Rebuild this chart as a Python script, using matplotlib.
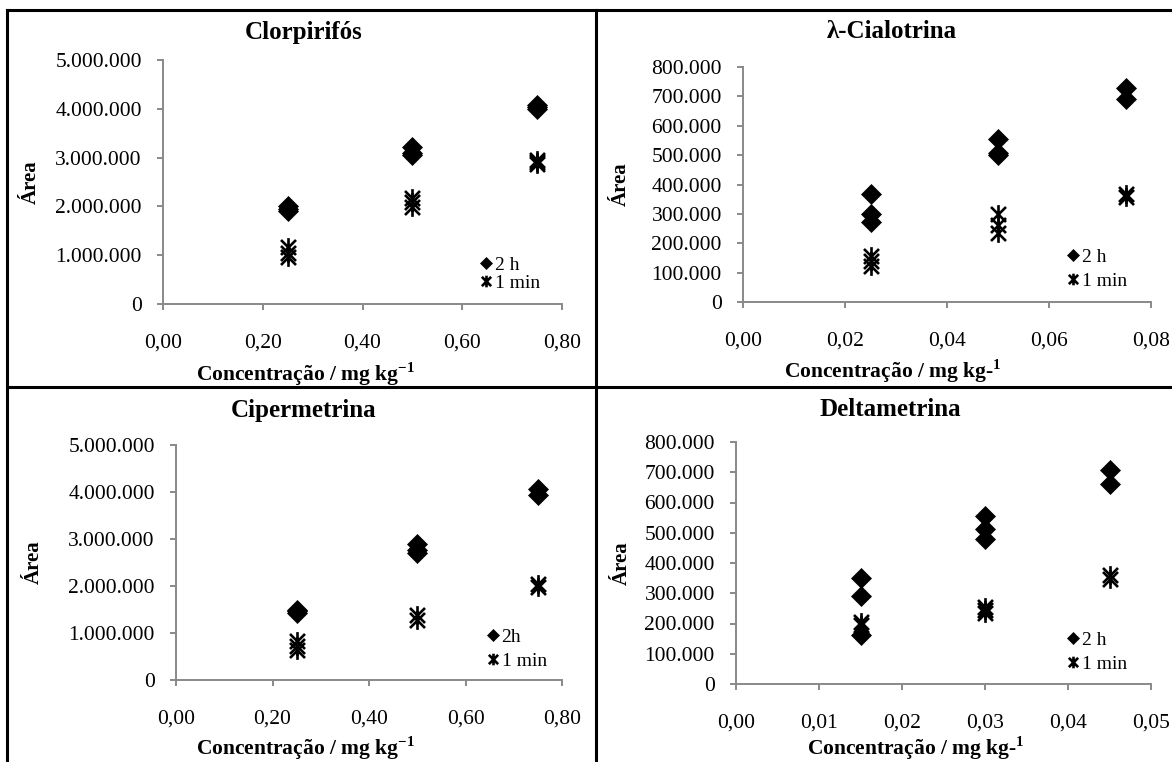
import matplotlib
matplotlib.use("Agg")
import matplotlib.pyplot as plt
from matplotlib.path import Path
from matplotlib.lines import Line2D
from matplotlib.ticker import FuncFormatter, MultipleLocator

plt.rcParams['font.family'] = ['Liberation Serif', 'DejaVu Serif']
plt.rcParams['mathtext.fontset'] = 'custom'
plt.rcParams['mathtext.rm'] = 'Liberation Serif'
plt.rcParams['mathtext.bf'] = 'Liberation Serif:bold'

# --- data ---
clor_x_2h = [0.25, 0.25, 0.25, 0.50, 0.50, 0.50, 0.75, 0.75, 0.75]
clor_y_2h = [2.00e6, 1.95e6, 1.90e6, 3.22e6, 3.10e6, 3.05e6, 4.07e6, 4.03e6, 4.00e6]
clor_x_1m = [0.25, 0.25, 0.25, 0.50, 0.50, 0.50, 0.75, 0.75, 0.75]
clor_y_1m = [1.16e6, 1.05e6, 0.96e6, 2.17e6, 2.08e6, 1.99e6, 2.95e6, 2.90e6, 2.86e6]

lamb_x_2h = [0.025, 0.025, 0.025, 0.05, 0.05, 0.05, 0.075, 0.075]
lamb_y_2h = [366e3, 298e3, 273e3, 555e3, 507e3, 499e3, 728e3, 691e3]
lamb_x_1m = [0.025, 0.025, 0.025, 0.05, 0.05, 0.05, 0.075, 0.075]
lamb_y_1m = [155e3, 138e3, 121e3, 301e3, 262e3, 234e3, 369e3, 356e3]

cipe_x_2h = [0.25, 0.25, 0.25, 0.50, 0.50, 0.50, 0.75, 0.75]
cipe_y_2h = [1.50e6, 1.46e6, 1.42e6, 2.89e6, 2.77e6, 2.70e6, 4.06e6, 3.94e6]
cipe_x_1m = [0.25, 0.25, 0.25, 0.50, 0.50, 0.75, 0.75]
cipe_y_1m = [0.82e6, 0.73e6, 0.64e6, 1.38e6, 1.28e6, 2.04e6, 1.97e6]

delt_x_2h = [0.015, 0.015, 0.015, 0.03, 0.03, 0.03, 0.045, 0.045]
delt_y_2h = [350e3, 291e3, 162e3, 556e3, 512e3, 479e3, 709e3, 662e3]
delt_x_1m = [0.015, 0.015, 0.03, 0.03, 0.03, 0.045, 0.045]
delt_y_1m = [205e3, 195e3, 256e3, 245e3, 234e3, 361e3, 347e3]

titles = ['Clorpirifós', 'λ-Cialotrina', 'Cipermetrina', 'Deltametrina']
labels_2h = ['2 h', '2 h', '2h', '2 h']
labels_1m = ['1 min', '1 min', '1 min', '1 min']
xlabels = [r'Concentração / mg kg$^{\mathbf{-1}}$',
           r'Concentração / mg kg-$^{\mathbf{1}}$',
           r'Concentração / mg kg$^{\mathbf{-1}}$',
           r'Concentração / mg kg-$^{\mathbf{1}}$']

series = [
    (clor_x_2h, clor_y_2h, clor_x_1m, clor_y_1m, 0.8, 0.2, 5e6, 1e6),
    (lamb_x_2h, lamb_y_2h, lamb_x_1m, lamb_y_1m, 0.08, 0.02, 8e5, 1e5),
    (cipe_x_2h, cipe_y_2h, cipe_x_1m, cipe_y_1m, 0.8, 0.2, 5e6, 1e6),
    (delt_x_2h, delt_y_2h, delt_x_1m, delt_y_1m, 0.05, 0.01, 8e5, 1e5),
]

# --- layout in pixels (left, top, right, bottom of plot area) ---
W, H = 1172, 762
boxes = [(163, 60, 562, 304), (743, 67, 1151, 302),
         (176, 445, 562, 680), (736, 442, 1151, 684)]
title_pos = [(304, 33), (892, 32), (304, 410), (890, 410)]
ylab_x = [31, 621, 34, 622]
xlab_pos = [(305, 374), (893, 371), (305, 748), (916, 748)]
leg_pos = [(480, 274), (1067, 269), (487, 649), (1067, 652)]
leg_spacing = [0.05, 0.3, 0.3, 0.3]

# asterisk marker: vertical bar + X
ast = Path([(0, -1), (0, 1), (-0.8, -0.8), (0.8, 0.8), (-0.8, 0.8), (0.8, -0.8)],
           [Path.MOVETO, Path.LINETO, Path.MOVETO, Path.LINETO, Path.MOVETO, Path.LINETO])

grey = '#898989'
fig = plt.figure(figsize=(W / 100, H / 100), dpi=100)

for i, (x2, y2, x1, y1, xmax, xstep, ymax, ystep) in enumerate(series):
    l, t, r, b = boxes[i]
    ax = fig.add_axes([l / W, 1 - b / H, (r - l) / W, (b - t) / H])
    ax.plot(x2, y2, linestyle='none', marker='D', markersize=10, color='black',
            markeredgewidth=0.5, label=labels_2h[i], clip_on=False)
    ax.plot(x1, y1, linestyle='none', marker=ast, markersize=13.5, color='black',
            markerfacecolor='none', markeredgewidth=1.9, label=labels_1m[i], clip_on=False)
    ax.set_xlim(0, xmax)
    ax.set_ylim(0, ymax)
    ax.xaxis.set_major_locator(MultipleLocator(xstep))
    ax.yaxis.set_major_locator(MultipleLocator(ystep))
    ax.xaxis.set_major_formatter(FuncFormatter(lambda v, p: f"{v:.2f}".replace('.', ',')))
    ax.yaxis.set_major_formatter(FuncFormatter(lambda v, p: f"{v:,.0f}".replace(',', '.')))
    for s in ['top', 'right']:
        ax.spines[s].set_visible(False)
    for s in ['left', 'bottom']:
        ax.spines[s].set_color(grey)
        ax.spines[s].set_linewidth(1.4)
    ax.tick_params(axis='both', direction='out', length=4.3, width=1.4, color=grey,
                   labelsize=15.5, labelcolor='black')
    ax.tick_params(axis='x', pad=17)
    ax.tick_params(axis='y', pad=11)
    ax.set_facecolor('none')

    lx, ly = leg_pos[i]
    ax.legend(loc='center left', bbox_to_anchor=(lx / W, 1 - ly / H),
              bbox_transform=fig.transFigure, frameon=False, fontsize=14,
              markerscale=0.62, borderpad=0, borderaxespad=0, handlelength=0.6,
              handletextpad=0.15, labelspacing=leg_spacing[i])

    tx, ty = title_pos[i]
    fig.text(tx / W, 1 - ty / H, titles[i], ha='center', va='center',
             fontsize=18, fontweight='bold')
    fig.text(ylab_x[i] / W, 1 - (t + b) / 2 / H, 'Área', ha='center', va='center',
             rotation=90, fontsize=15, fontweight='bold')
    xx, xy = xlab_pos[i]
    fig.text(xx / W, 1 - xy / H, xlabels[i], ha='center', va='center',
             fontsize=15.5, fontweight='bold')

# panel borders
bw = 2.2
fig.add_artist(Line2D([7 / W, 7 / W], [0, 1 - 10 / H], color='black', lw=bw))
fig.add_artist(Line2D([7 / W, 1], [1 - 10 / H, 1 - 10 / H], color='black', lw=bw))
fig.add_artist(Line2D([596 / W, 596 / W], [0, 1 - 10 / H], color='black', lw=bw))
fig.add_artist(Line2D([7 / W, 1], [1 - 387 / H, 1 - 387 / H], color='black', lw=bw))

fig.savefig('out.png', dpi=100, facecolor='white')
